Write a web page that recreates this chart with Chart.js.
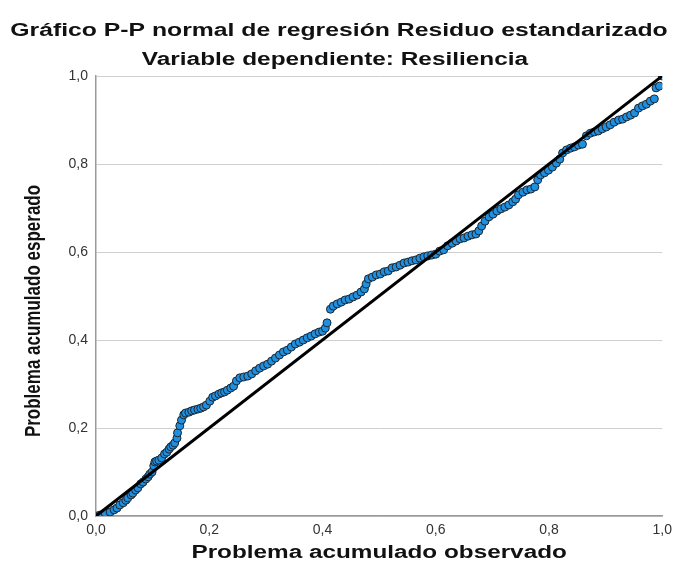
<!DOCTYPE html>
<html>
<head>
<meta charset="utf-8">
<script src="https://cdn.jsdelivr.net/npm/chart.js@4/dist/chart.umd.min.js"></script>
<style>
  html, body { margin: 0; padding: 0; background: #fff; }
  #wrap { width: 678px; height: 573px; }
</style>
</head>
<body>
<div id="wrap"><canvas id="grafico" width="678" height="573"></canvas></div>
<script>
// ---------- Datos ----------
const titulo = "Gráfico P-P normal de regresión Residuo estandarizado";
const subtitulo = "Variable dependiente: Resiliencia";
const tituloX = "Problema acumulado observado";
const tituloY = "Problema acumulado esperado";
const ticksEjes = [0, 0.2, 0.4, 0.6, 0.8, 1.0];

// prob. acumulada observada (eje x)
const probObservada = [
  0.000, 0.007, 0.016, 0.025, 0.032, 0.037, 0.042, 0.048, 0.053, 0.056,
  0.062, 0.065, 0.070, 0.074, 0.079, 0.083, 0.088, 0.092, 0.095, 0.099,
  0.102, 0.104, 0.107, 0.111, 0.116, 0.121, 0.125, 0.129, 0.132, 0.136,
  0.139, 0.143, 0.144, 0.148, 0.151, 0.155, 0.158, 0.164, 0.169, 0.174,
  0.180, 0.185, 0.190, 0.195, 0.201, 0.206, 0.211, 0.217, 0.222, 0.227,
  0.232, 0.238, 0.243, 0.248, 0.254, 0.261, 0.268, 0.275, 0.282, 0.289,
  0.296, 0.303, 0.310, 0.317, 0.324, 0.331, 0.338, 0.345, 0.352, 0.359,
  0.366, 0.373, 0.380, 0.387, 0.394, 0.400, 0.405, 0.408, 0.414, 0.419,
  0.426, 0.433, 0.440, 0.447, 0.454, 0.461, 0.468, 0.474, 0.477, 0.481,
  0.488, 0.495, 0.502, 0.509, 0.516, 0.523, 0.530, 0.537, 0.544, 0.551,
  0.558, 0.565, 0.572, 0.579, 0.586, 0.593, 0.600, 0.607, 0.614, 0.621,
  0.629, 0.636, 0.643, 0.650, 0.657, 0.664, 0.671, 0.676, 0.681, 0.687,
  0.694, 0.701, 0.708, 0.715, 0.722, 0.729, 0.736, 0.741, 0.746, 0.754,
  0.761, 0.768, 0.775, 0.780, 0.785, 0.792, 0.799, 0.806, 0.813, 0.819,
  0.824, 0.831, 0.838, 0.845, 0.852, 0.859, 0.866, 0.873, 0.880, 0.887,
  0.894, 0.901, 0.908, 0.915, 0.923, 0.930, 0.937, 0.944, 0.951, 0.958,
  0.965, 0.972, 0.979, 0.986, 0.989, 0.995, 1.000
];

// prob. acumulada esperada (eje y)
const probEsperada = [
  0.000, 0.002, 0.007, 0.009, 0.014, 0.018, 0.025, 0.030, 0.036, 0.041,
  0.048, 0.052, 0.059, 0.064, 0.073, 0.077, 0.084, 0.089, 0.095, 0.100,
  0.114, 0.123, 0.125, 0.127, 0.132, 0.141, 0.145, 0.152, 0.157, 0.161,
  0.166, 0.177, 0.189, 0.205, 0.218, 0.230, 0.234, 0.236, 0.239, 0.241,
  0.243, 0.245, 0.248, 0.252, 0.261, 0.270, 0.273, 0.277, 0.280, 0.282,
  0.286, 0.291, 0.295, 0.307, 0.314, 0.316, 0.318, 0.323, 0.330, 0.336,
  0.341, 0.345, 0.352, 0.359, 0.366, 0.373, 0.377, 0.384, 0.391, 0.395,
  0.400, 0.405, 0.409, 0.414, 0.418, 0.420, 0.427, 0.439, 0.470, 0.477,
  0.482, 0.486, 0.491, 0.493, 0.498, 0.502, 0.509, 0.516, 0.527, 0.539,
  0.543, 0.548, 0.550, 0.555, 0.557, 0.564, 0.566, 0.570, 0.575, 0.577,
  0.580, 0.582, 0.586, 0.589, 0.591, 0.593, 0.595, 0.602, 0.605, 0.614,
  0.620, 0.625, 0.630, 0.632, 0.636, 0.639, 0.641, 0.648, 0.659, 0.670,
  0.680, 0.686, 0.693, 0.698, 0.702, 0.707, 0.714, 0.720, 0.730, 0.736,
  0.741, 0.743, 0.748, 0.764, 0.775, 0.780, 0.786, 0.793, 0.802, 0.811,
  0.825, 0.832, 0.836, 0.839, 0.843, 0.845, 0.864, 0.870, 0.873, 0.875,
  0.880, 0.884, 0.889, 0.895, 0.900, 0.902, 0.907, 0.911, 0.916, 0.927,
  0.932, 0.936, 0.943, 0.948, 0.973, 0.977, 1.000
];

// recta de referencia (diagonal)
const diagonalX = [0, 1];
const diagonalY = [0, 1];

// ---------- Helpers ----------
const FUENTE = "'Liberation Sans', Arial, sans-serif";
const fmt = (v) => Number(v).toFixed(1).replace(".", ",");
const puntos = probObservada.map((x, i) => ({ x: x, y: probEsperada[i] }));
const diagonal = diagonalX.map((x, i) => ({ x: x, y: diagonalY[i] }));

// texto en negrita, estirado en horizontal como en la imagen original
function texto(ctx, str, x, y, size, estirar, rot) {
  ctx.save();
  ctx.translate(x, y);
  ctx.scale(estirar, 1);
  ctx.rotate(rot);
  ctx.font = `bold ${size}px ${FUENTE}`;
  ctx.fillStyle = "#111";
  ctx.textAlign = "center";
  ctx.textBaseline = "middle";
  ctx.fillText(str, 0, 0);
  ctx.restore();
}

const titulosPlugin = {
  id: "titulos",
  afterDraw(chart) {
    const ctx = chart.ctx;
    const a = chart.chartArea;
    texto(ctx, titulo, 339, 31, 18, 1.375, 0);
    texto(ctx, subtitulo, 335, 60, 18, 1.355, 0);
    texto(ctx, tituloX, (a.left + a.right) / 2, 553, 18, 1.35, 0);
    texto(ctx, tituloY, 34, 311, 17, 1.3, -Math.PI / 2);
  },
};

new Chart(document.getElementById("grafico"), {
  type: "scatter",
  data: {
    datasets: [
      {
        label: "Diagonal",
        data: diagonal,
        showLine: true,
        borderColor: "#000",
        borderWidth: 3,
        pointRadius: 0,
      },
      {
        label: "Residuo",
        data: puntos,
        pointRadius: 4,
        pointBackgroundColor: "#1f8fe0",
        pointBorderColor: "#1c2630",
        pointBorderWidth: 1,
      },
    ],
  },
  plugins: [titulosPlugin],
  options: {
    responsive: false,
    animation: false,
    layout: { padding: { top: 76, right: 12, bottom: 0, left: 0 } },
    plugins: {
      legend: { display: false },
      tooltip: { enabled: false },
      title: { display: false },
    },
    scales: {
      x: {
        type: "linear",
        min: 0,
        max: 1,
        afterBuildTicks: (s) => { s.ticks = ticksEjes.map((v) => ({ value: v })); },
        afterFit: (s) => { s.height = 57; },
        grid: { display: false, drawTicks: false },
        border: { display: true, color: "#9a9a9a", width: 1.5 },
        ticks: {
          padding: 6,
          color: "#333",
          font: { family: FUENTE, size: 14 },
          callback: (v) => fmt(v),
          maxRotation: 0,
        },
      },
      y: {
        type: "linear",
        min: 0,
        max: 1,
        afterBuildTicks: (s) => { s.ticks = ticksEjes.map((v) => ({ value: v })); },
        afterFit: (s) => { s.width = 96; },
        grid: { color: "#cfcfcf", lineWidth: 1, drawTicks: false },
        border: { display: true, color: "#9a9a9a", width: 1.5 },
        ticks: {
          padding: 8,
          color: "#333",
          font: { family: FUENTE, size: 14 },
          callback: (v) => fmt(v),
        },
      },
    },
  },
});
</script>
</body>
</html>
